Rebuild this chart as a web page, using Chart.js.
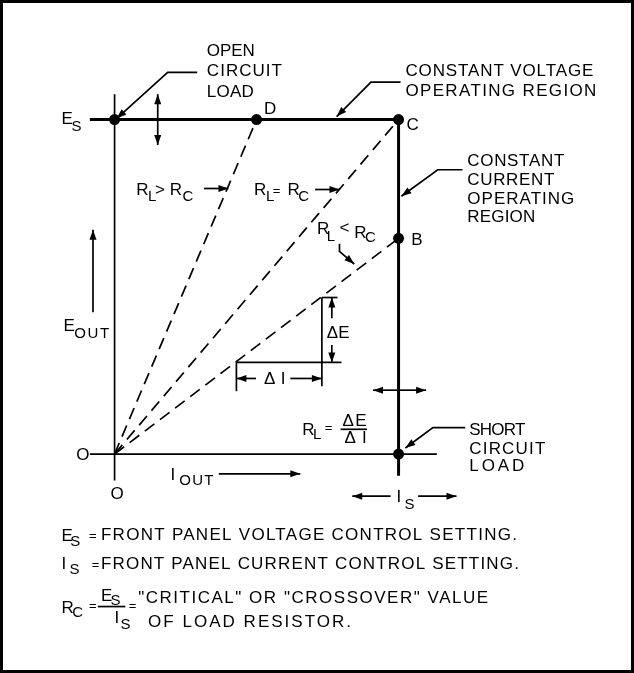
<!DOCTYPE html>
<html>
<head>
<meta charset="utf-8">
<script src="https://cdn.jsdelivr.net/npm/chart.js@4/dist/chart.umd.min.js"></script>
<style>
  html, body { margin: 0; padding: 0; background: #fff; }
  #wrap { width: 634px; height: 673px; position: relative; }
</style>
</head>
<body>
<div id="wrap"><canvas id="chart"></canvas></div>
<script>
// units: E in tenths of Es, I in tenths of Is
const ES = 10
const IS = 10

const xAxisLine = [[-0.87, 0], [11.35, 0]]
const yAxisLine = [[0, -0.79], [0, 10.76]]
const cvLine = [[-0.87, ES], [IS, ES]]       // constant voltage
const ccLine = [[IS, ES], [IS, -0.65]]       // constant current
const loadD = [[0, 0], [5, ES]]              // RL > RC
const loadC = [[0, 0], [IS, ES]]             // RL = RC
const loadB = [[0, 0], [IS, 6.45]]           // RL < RC
const opPoints = [[0, ES], [5, ES], [IS, ES], [IS, 6.45], [IS, 0]]

const FONT = '"Liberation Sans", Arial, sans-serif'

// text labels: t, x, y (data units), s = size, w = target width in px
const labels = [
    {t: 'OPEN', x: 3.25, y: 11.91, w: 48},
    {t: 'CIRCUIT', x: 3.25, y: 11.29, w: 75},
    {t: 'LOAD', x: 3.25, y: 10.68, w: 47},
    {t: 'CONSTANT VOLTAGE', x: 10.24, y: 11.29, w: 188},
    {t: 'OPERATING REGION', x: 10.24, y: 10.71, w: 191},
    {t: 'C', x: 10.28, y: 9.68},
    {t: 'D', x: 5.26, y: 10.18},
    {t: 'CONSTANT', x: 12.42, y: 8.62, w: 97},
    {t: 'CURRENT', x: 12.42, y: 8.03, w: 87},
    {t: 'OPERATING', x: 12.42, y: 7.47, w: 107},
    {t: 'REGION', x: 12.42, y: 6.94, w: 68},
    {t: 'B', x: 10.45, y: 6.26},
    {t: 'SHORT', x: 12.49, y: 0.56, w: 56},
    {t: 'CIRCUIT', x: 12.49, y: 0.0, w: 76},
    {t: 'LOAD', x: 12.49, y: -0.50, w: 55},
    {t: 'E', x: -1.87, y: 9.88},
    {t: 'S', x: -1.52, y: 9.65, s: 15},
    {t: 'O', x: -1.35, y: -0.18},
    {t: 'O', x: -0.14, y: -1.35},
    {t: 'E', x: -1.80, y: 3.68},
    {t: 'OUT', x: -1.42, y: 3.47, s: 15, w: 35},
    {t: 'I', x: 1.97, y: -0.79},
    {t: 'OUT', x: 2.28, y: -0.94, s: 15, w: 34},
    {t: 'I', x: 9.93, y: -1.44},
    {t: 'S', x: 10.21, y: -1.65, s: 15},
    // RL > RC
    {t: 'R', x: 0.76, y: 7.74},
    {t: 'L', x: 1.18, y: 7.56, s: 15},
    {t: '>', x: 1.42, y: 7.74},
    {t: 'R', x: 1.94, y: 7.74},
    {t: 'C', x: 2.39, y: 7.56, s: 15},
    // RL = RC
    {t: 'R', x: 4.91, y: 7.74},
    {t: 'L', x: 5.33, y: 7.56, s: 15},
    {t: '=', x: 5.57, y: 7.74, s: 13},
    {t: 'R', x: 6.09, y: 7.74},
    {t: 'C', x: 6.47, y: 7.56, s: 15},
    // RL < RC
    {t: 'R', x: 7.13, y: 6.59},
    {t: 'L', x: 7.47, y: 6.38, s: 15},
    {t: '<', x: 7.92, y: 6.60},
    {t: 'R', x: 8.44, y: 6.47},
    {t: 'C', x: 8.82, y: 6.35, s: 15},
    // delta triangle
    {t: 'ΔE', x: 7.47, y: 3.47, w: 23},
    {t: 'Δ', x: 5.26, y: 2.09},
    {t: 'I', x: 5.85, y: 2.09},
    {t: 'R', x: 6.61, y: 0.56},
    {t: 'L', x: 6.99, y: 0.44, s: 15},
    {t: '=', x: 7.40, y: 0.66, s: 13},
    {t: 'ΔE', x: 8.03, y: 0.85, w: 24},
    {t: 'ΔI', x: 8.10, y: 0.32, w: 22},
    // notes
    {t: 'E', x: -1.87, y: -2.59},
    {t: 'S', x: -1.56, y: -2.76, s: 15},
    {t: '=', x: -0.90, y: -2.56, s: 13},
    {t: 'FRONT PANEL VOLTAGE CONTROL SETTING.', x: -0.48, y: -2.56, w: 416},
    {t: 'I', x: -1.87, y: -3.44},
    {t: 'S', x: -1.59, y: -3.59, s: 15},
    {t: '=', x: -0.80, y: -3.44, s: 13},
    {t: 'FRONT PANEL CURRENT CONTROL SETTING.', x: -0.48, y: -3.44, w: 418},
    {t: 'R', x: -1.87, y: -4.76},
    {t: 'C', x: -1.49, y: -4.88, s: 15},
    {t: '=', x: -0.90, y: -4.66, s: 13},
    {t: 'E', x: -0.48, y: -4.40},
    {t: 'S', x: -0.14, y: -4.52, s: 15},
    {t: 'I', x: 0.0, y: -5.06},
    {t: 'S', x: 0.21, y: -5.24, s: 15},
    {t: '=', x: 0.50, y: -4.66, s: 13},
    {t: '"CRITICAL" OR "CROSSOVER" VALUE', x: 0.83, y: -4.44, w: 350},
    {t: 'OF LOAD RESISTOR.', x: 1.18, y: -5.18, w: 203}
]

// polylines with an arrowhead at the last point
const arrows = [
    [[2.91, 11.41], [1.87, 11.41], [0.07, 10.03]],
    [[10.07, 11.12], [9.03, 11.12], [7.82, 10.09]],
    [[12.25, 8.50], [11.38, 8.50], [10.10, 7.71]],
    [[7.92, 6.29], [7.92, 6.06], [8.44, 5.68]],
    [[12.35, 0.79], [11.21, 0.79], [10.24, 0.18]],
    [[3.15, 7.94], [4.01, 7.94]],
    [[7.06, 7.91], [7.92, 7.91]],
    [[3.67, -0.59], [6.54, -0.59]],
    [[-0.76, 4.24], [-0.76, 6.71]],
    [[1.52, 10.0], [1.52, 10.76]],
    [[1.52, 10.0], [1.52, 9.24]],
    [[10.0, 1.91], [9.10, 1.91]],
    [[10.0, 1.91], [10.97, 1.91]],
    [[9.72, -1.26], [8.37, -1.26]],
    [[10.69, -1.26], [12.04, -1.26]],
    [[7.65, 4.06], [7.65, 4.68]],
    [[7.65, 3.26], [7.65, 2.74]],
    [[4.98, 2.26], [4.29, 2.26]],
    [[6.19, 2.26], [7.30, 2.26]]
]

// plain strokes
const strokes = [
    [[4.29, 2.74], [7.99, 2.74]],
    [[7.30, 2.74], [7.30, 4.68]],
    [[7.30, 4.68], [7.85, 4.68]],
    [[4.29, 2.74], [4.29, 1.88]],
    [[7.30, 2.74], [7.30, 2.03]],
    [[7.96, 0.74], [8.89, 0.74]],
    [[-0.59, -4.56], [0.38, -4.56]]
]

function pts(arr) {
    return arr.map(p => ({x: p[0], y: p[1]}))
}

function lineSet(arr, width, dash) {
    return {
        data: pts(arr),
        showLine: true,
        borderColor: '#000',
        borderWidth: width,
        borderDash: dash || [],
        pointRadius: 0,
        borderCapStyle: 'butt'
    }
}

// scale range so that x=0 sits at 111px, x=IS at 400px, y=ES at 116px, y=0 at 456px
const W = 634, H = 673
const xPer = (400 - 111) / IS
const yPer = (456 - 116) / ES
const xMin = -111 / xPer, xMax = xMin + W / xPer
const yMax = ES + 116 / yPer, yMin = yMax - H / yPer

const drawingPlugin = {
    id: 'drawing',
    afterDatasetsDraw(chart) {
        const ctx = chart.ctx
        const sx = v => chart.scales.x.getPixelForValue(v)
        const sy = v => chart.scales.y.getPixelForValue(v)
        ctx.save()
        ctx.strokeStyle = '#000'
        ctx.fillStyle = '#000'
        ctx.lineWidth = 1.7

        strokes.forEach(s => {
            ctx.beginPath()
            s.forEach((p, i) => i ? ctx.lineTo(sx(p[0]), sy(p[1])) : ctx.moveTo(sx(p[0]), sy(p[1])))
            ctx.stroke()
        })

        arrows.forEach(a => {
            ctx.beginPath()
            a.forEach((p, i) => i ? ctx.lineTo(sx(p[0]), sy(p[1])) : ctx.moveTo(sx(p[0]), sy(p[1])))
            ctx.stroke()
            const p1 = a[a.length - 2], p2 = a[a.length - 1]
            const x1 = sx(p1[0]), y1 = sy(p1[1]), x2 = sx(p2[0]), y2 = sy(p2[1])
            const ang = Math.atan2(y2 - y1, x2 - x1)
            const len = 10, hw = 3.5
            ctx.beginPath()
            ctx.moveTo(x2, y2)
            ctx.lineTo(x2 - len * Math.cos(ang) + hw * Math.sin(ang), y2 - len * Math.sin(ang) - hw * Math.cos(ang))
            ctx.lineTo(x2 - len * Math.cos(ang) - hw * Math.sin(ang), y2 - len * Math.sin(ang) + hw * Math.cos(ang))
            ctx.closePath()
            ctx.fill()
        })

        ctx.textBaseline = 'alphabetic'
        ctx.textAlign = 'left'
        labels.forEach(l => {
            ctx.font = (l.s || 17) + 'px ' + FONT
            ctx.letterSpacing = '0px'
            if (l.w && l.t.length > 1) {
                const w = ctx.measureText(l.t).width
                ctx.letterSpacing = ((l.w - w) / (l.t.length - 1)) + 'px'
            }
            ctx.fillText(l.t, sx(l.x), sy(l.y))
        })
        ctx.letterSpacing = '0px'

        // frame
        ctx.lineWidth = 3
        ctx.strokeRect(1.5, 1.5, W - 3, H - 3)
        ctx.restore()
    }
}

new Chart(document.getElementById('chart'), {
    type: 'scatter',
    data: {
        datasets: [
            lineSet(xAxisLine, 1.7),
            lineSet(yAxisLine, 1.7),
            lineSet(cvLine, 3),
            lineSet(ccLine, 3),
            lineSet(loadD, 1.7, [12, 7]),
            lineSet(loadC, 1.7, [12, 7]),
            lineSet(loadB, 1.7, [12, 7]),
            {
                data: pts(opPoints),
                showLine: false,
                pointRadius: 5.5,
                pointBackgroundColor: '#000',
                pointBorderColor: '#000',
                pointBorderWidth: 0
            }
        ]
    },
    options: {
        responsive: true,
        maintainAspectRatio: false,
        animation: false,
        events: [],
        layout: {padding: 0},
        plugins: {
            legend: {display: false},
            tooltip: {enabled: false}
        },
        scales: {
            x: {type: 'linear', display: false, min: xMin, max: xMax},
            y: {type: 'linear', display: false, min: yMin, max: yMax}
        }
    },
    plugins: [drawingPlugin]
})
</script>
</body>
</html>
